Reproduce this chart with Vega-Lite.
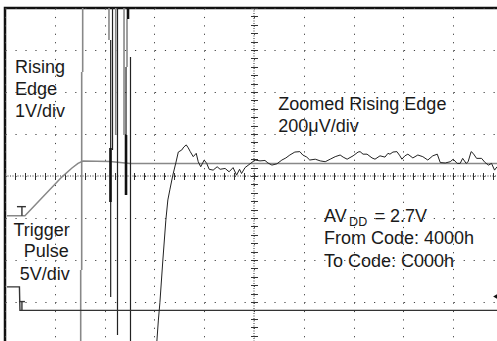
{
  "$schema": "https://vega.github.io/schema/vega-lite/v6.json",
  "width": 498,
  "height": 336,
  "autosize": {"type": "none"},
  "padding": {"left": 5, "top": 8, "right": 0, "bottom": 0},
  "background": "white",
  "config": {"view": {"stroke": "#111", "strokeWidth": 2.5}, "font": "Liberation Sans"},
  "datasets": {
    "rising": [{"x":0.04,"y":-0.945},{"x":0.40,"y":-0.945},{"x":1.145,"y":-0.02},{"x":1.345,"y":0.19},{"x":1.466,"y":0.30},{"x":1.566,"y":0.357},{"x":2.108,"y":0.345},{"x":2.51,"y":0.30},{"x":10,"y":0.30}],
    "zoomed": [{"x":3.05,"y":-3.93},{"x":3.08,"y":-3.43},{"x":3.11,"y":-3.02},{"x":3.17,"y":-2.0},{"x":3.23,"y":-1.05},{"x":3.27,"y":-0.57},{"x":3.31,"y":-0.33},{"x":3.37,"y":0.02},{"x":3.43,"y":0.31},{"x":3.48,"y":0.57},{"x":3.55,"y":0.62},{"x":3.59,"y":0.69},{"x":3.64,"y":0.74},{"x":3.68,"y":0.67},{"x":3.72,"y":0.58},{"x":3.78,"y":0.46},{"x":3.84,"y":0.54},{"x":3.88,"y":0.34},{"x":3.93,"y":0.22},{"x":4.00,"y":0.38},{"x":4.05,"y":0.30},{"x":4.10,"y":0.16},{"x":4.18,"y":0.14},{"x":4.26,"y":0.22},{"x":4.32,"y":0.16},{"x":4.42,"y":0.18},{"x":4.50,"y":0.10},{"x":4.58,"y":0.20},{"x":4.65,"y":0.02},{"x":4.71,"y":0.16},{"x":4.75,"y":0.06},{"x":4.82,"y":0.20},{"x":4.92,"y":0.29},{"x":5.02,"y":0.38},{"x":5.12,"y":0.36},{"x":5.22,"y":0.37},{"x":5.28,"y":0.31},{"x":5.36,"y":0.26},{"x":5.46,"y":0.29},{"x":5.56,"y":0.38},{"x":5.64,"y":0.43},{"x":5.72,"y":0.50},{"x":5.82,"y":0.57},{"x":5.92,"y":0.58},{"x":5.98,"y":0.50},{"x":6.06,"y":0.45},{"x":6.12,"y":0.38},{"x":6.23,"y":0.40},{"x":6.33,"y":0.36},{"x":6.43,"y":0.34},{"x":6.53,"y":0.40},{"x":6.63,"y":0.46},{"x":6.73,"y":0.50},{"x":6.79,"y":0.45},{"x":6.87,"y":0.40},{"x":6.99,"y":0.48},{"x":7.09,"y":0.57},{"x":7.13,"y":0.58},{"x":7.19,"y":0.52},{"x":7.27,"y":0.52},{"x":7.37,"y":0.43},{"x":7.43,"y":0.40},{"x":7.53,"y":0.48},{"x":7.63,"y":0.45},{"x":7.69,"y":0.54},{"x":7.73,"y":0.52},{"x":7.79,"y":0.57},{"x":7.87,"y":0.58},{"x":7.93,"y":0.48},{"x":7.97,"y":0.40},{"x":8.03,"y":0.48},{"x":8.09,"y":0.52},{"x":8.19,"y":0.43},{"x":8.29,"y":0.50},{"x":8.39,"y":0.46},{"x":8.49,"y":0.38},{"x":8.59,"y":0.48},{"x":8.68,"y":0.52},{"x":8.74,"y":0.32},{"x":8.84,"y":0.31},{"x":8.94,"y":0.34},{"x":9.00,"y":0.40},{"x":9.08,"y":0.30},{"x":9.14,"y":0.30},{"x":9.19,"y":0.42},{"x":9.26,"y":0.30},{"x":9.30,"y":0.34},{"x":9.36,"y":0.58},{"x":9.40,"y":0.54},{"x":9.47,"y":0.42},{"x":9.57,"y":0.42},{"x":9.64,"y":0.32},{"x":9.71,"y":0.26},{"x":9.77,"y":0.30},{"x":9.83,"y":0.14},{"x":9.88,"y":0.22},{"x":10,"y":0.2}],
    "trigger": [{"x":0.04,"y":-2.64},{"x":0.29,"y":-2.64},{"x":0.30,"y":-3.20},{"x":10,"y":-3.20}],
    "centerH": [{"x":0,"x2":10,"y":0}],
    "centerV": [{"x":5,"y":-4,"y2":4}],
    "markerBars": [{"x":0.24,"x2":0.42,"y":-0.73},{"x":0.28,"x2":0.40,"y":-2.99}],
    "markerStems": [{"x":0.34,"y":-0.73,"y2":-0.945},{"x":0.34,"y":-2.99,"y2":-3.20}],
    "spikesGray": [{"x":1.56,"y":4,"y2":2.476},{"x":1.54,"y":2.476,"y2":-2.238},{"x":1.52,"y":-2.238,"y2":-4},{"x":2.088,"y":4,"y2":3.238},{"x":2.223,"y":4,"y2":0.976},{"x":2.39,"y":4,"y2":0.976},{"x":2.45,"y":3.738,"y2":2.595}],
    "spikesBlack": [{"x":2.122,"y":3.238,"y2":-2.881},{"x":2.159,"y":4,"y2":0.619},{"x":2.259,"y":4,"y2":-3.786},{"x":2.52,"y":2.833,"y2":-4},{"x":2.43,"y":2.595,"y2":0.976}],
    "spikesThick": [{"x":2.118,"y":0.667,"y2":-0.619},{"x":2.43,"y":0.976,"y2":-0.452},{"x":2.47,"y":4,"y2":3.738}],
    "arrow": [{"x":9.86,"y":-2.87}],
    "textsLeft": [{"x":0.20,"y":2.46,"label":"Rising"},{"x":0.20,"y":1.93,"label":"Edge"},{"x":0.20,"y":1.40,"label":"1V/div"},{"x":5.488,"y":1.571,"label":"Zoomed Rising Edge"},{"x":5.488,"y":1.055,"label":"200μV/div"},{"x":6.406,"y":-1.088,"label":"AV"},{"x":7.42,"y":-1.088,"label":"= 2.7V"},{"x":6.406,"y":-1.619,"label":"From Code: 4000h"},{"x":6.406,"y":-2.16,"label":"To Code: C000h"}],
    "textsRight": [{"x":1.30,"y":-1.43,"label":"Trigger"},{"x":1.28,"y":-1.94,"label":"Pulse"},{"x":1.30,"y":-2.48,"label":"5V/div"}],
    "textsSub": [{"x":6.91,"y":-1.19,"label":"DD"}]
  },
  "encoding": {
    "x": {"field": "x", "type": "quantitative", "scale": {"domain": [0, 10], "nice": false, "zero": false}, "axis": null},
    "y": {"field": "y", "type": "quantitative", "scale": {"domain": [-4, 4], "nice": false, "zero": false}, "axis": null}
  },
  "resolve": {"axis": {"x": "independent", "y": "independent"}},
  "layer": [
    {
      "data": {"name": "centerH"},
      "mark": {"type": "rule", "color": "#333", "strokeWidth": 1, "strokeDash": [1, 1.5]},
      "encoding": {
        "x": {"field": "x", "type": "quantitative", "scale": {"domain": [0, 10], "nice": false, "zero": false},
          "axis": {"orient": "bottom", "grid": true, "values": [0,1,2,3,4,5,6,7,8,9,10], "gridDash": [1.2, 7.2], "gridColor": "#444", "gridWidth": 1, "gridOpacity": 1, "labels": false, "ticks": false, "domain": false, "title": null}},
        "x2": {"field": "x2"},
        "y": {"field": "y", "type": "quantitative", "scale": {"domain": [-4, 4], "nice": false, "zero": false},
          "axis": {"orient": "left", "grid": true, "values": [-4,-3,-2,-1,0,1,2,3,4], "gridDash": [1.2, 8.76], "gridColor": "#444", "gridWidth": 1, "gridOpacity": 1, "labels": false, "ticks": false, "domain": false, "title": null}}
      }
    },
    {
      "data": {"name": "centerV"},
      "mark": {"type": "rule", "color": "#333", "strokeWidth": 1, "strokeDash": [1, 1.5]},
      "encoding": {
        "x": {"field": "x", "type": "quantitative", "scale": {"domain": [0, 10], "nice": false, "zero": false},
          "axis": {"orient": "top", "offset": -164.5, "tickCount": 50, "tickSize": -7, "tickColor": "#333", "tickWidth": 1, "labels": false, "domain": false, "grid": false, "title": null}},
        "y": {"field": "y", "type": "quantitative", "scale": {"domain": [-4, 4], "nice": false, "zero": false},
          "axis": {"orient": "right", "offset": -245.5, "tickCount": 40, "tickSize": -7, "tickColor": "#333", "tickWidth": 1, "labels": false, "domain": false, "grid": false, "title": null}},
        "y2": {"field": "y2"}
      }
    },
    {
      "data": {"name": "rising"},
      "mark": {"type": "line", "color": "#888", "strokeWidth": 1.5}
    },
    {
      "data": {"name": "spikesGray"},
      "mark": {"type": "rule", "color": "#888", "strokeWidth": 1.6},
      "encoding": {"y2": {"field": "y2"}}
    },
    {
      "data": {"name": "spikesBlack"},
      "mark": {"type": "rule", "color": "#222", "strokeWidth": 1.2},
      "encoding": {"y2": {"field": "y2"}}
    },
    {
      "data": {"name": "spikesThick"},
      "mark": {"type": "rule", "color": "#111", "strokeWidth": 2.6},
      "encoding": {"y2": {"field": "y2"}}
    },
    {
      "data": {"name": "trigger"},
      "mark": {"type": "line", "color": "#333", "strokeWidth": 1.4}
    },
    {
      "data": {"name": "zoomed"},
      "mark": {"type": "line", "color": "#222", "strokeWidth": 1}
    },
    {
      "data": {"name": "markerBars"},
      "mark": {"type": "rule", "color": "#333", "strokeWidth": 1.4},
      "encoding": {"x2": {"field": "x2"}}
    },
    {
      "data": {"name": "markerStems"},
      "mark": {"type": "rule", "color": "#333", "strokeWidth": 1.4},
      "encoding": {"y2": {"field": "y2"}}
    },
    {
      "data": {"name": "arrow"},
      "mark": {"type": "point", "shape": "triangle-left", "filled": true, "color": "#111", "size": 45, "opacity": 1}
    },
    {
      "data": {"name": "textsLeft"},
      "mark": {"type": "text", "align": "left", "baseline": "alphabetic", "fontSize": 18, "color": "#1a1a1a", "font": "Liberation Sans"},
      "encoding": {"text": {"field": "label"}}
    },
    {
      "data": {"name": "textsRight"},
      "mark": {"type": "text", "align": "right", "baseline": "alphabetic", "fontSize": 18, "color": "#1a1a1a", "font": "Liberation Sans"},
      "encoding": {"text": {"field": "label"}}
    },
    {
      "data": {"name": "textsSub"},
      "mark": {"type": "text", "align": "left", "baseline": "alphabetic", "fontSize": 12.5, "color": "#1a1a1a", "font": "Liberation Sans"},
      "encoding": {"text": {"field": "label"}}
    }
  ]
}
